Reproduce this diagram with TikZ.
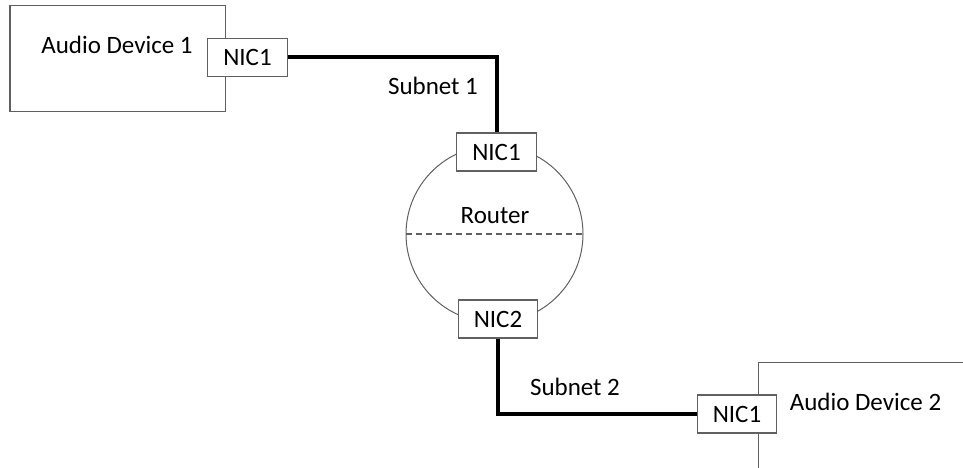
\documentclass[tikz,border=0pt]{standalone}
\usepackage{fontspec}
\setmainfont{Carlito}
\definecolor{edgegray}{RGB}{96,96,96}
\begin{document}
\begin{tikzpicture}[x=1pt,y=-1pt,
  lbl/.style={font=\fontsize{25}{30}\selectfont, inner sep=0pt},
  devbox/.style={draw=edgegray, line width=1.3pt},
  nicbox/.style={draw=edgegray, line width=1.3pt, fill=white, inner sep=0pt,
    minimum width=79.5pt, minimum height=38pt, font=\fontsize{25}{30}\selectfont},
  wire/.style={line width=4pt, line join=miter},
  hull/.style={draw=edgegray, line width=1pt}]
  \useasboundingbox (0,0) rectangle (963,468);
  \clip (0,0) rectangle (963,468);

  % first audio device
  \draw[devbox] (10,5.5) rectangle (225.5,111.5);
  \node[lbl] (dev1) at (117,45) {Audio Device 1};

  % second audio device, running off the page
  \draw[devbox] (758.5,362.5) rectangle (980,490);
  \node[lbl] (dev2) at (865.5,402) {Audio Device 2};

  % router body
  \node[hull, circle, minimum size=177pt, inner sep=0pt] (router) at (494.5,234) {};
  \draw[edgegray, line width=1.4pt, dash pattern=on 6pt off 4pt] (router.west) -- (router.east);
  \node[lbl] (rlabel) at (495,216) {Router};

  % network interfaces
  \node[nicbox] (nicA) at (247.5,57.5) {NIC1};
  \node[nicbox] (rnic1) at (496.5,152) {NIC1};
  \node[nicbox] (rnic2) at (498,319) {NIC2};
  \node[nicbox] (nicB) at (737,414) {NIC1};

  % links
  \draw[wire] (nicA.east) -| (rnic1.north);
  \draw[wire] (rnic2.south) |- (nicB.west);

  \node[lbl] (sub1) at (433,86) {Subnet 1};
  \node[lbl] (sub2) at (575,387) {Subnet 2};
\end{tikzpicture}
\end{document}
